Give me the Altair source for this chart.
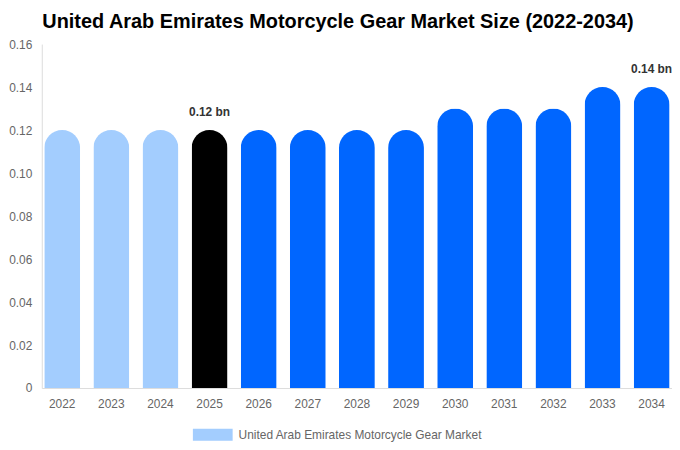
import pandas as pd
import altair as alt

years = ["2022", "2023", "2024", "2025", "2026", "2027", "2028",
         "2029", "2030", "2031", "2032", "2033", "2034"]
values = [0.12, 0.12, 0.12, 0.12, 0.12, 0.12, 0.12,
          0.12, 0.13, 0.13, 0.13, 0.14, 0.14]
bar_colors = ["#a3cdfe", "#a3cdfe", "#a3cdfe", "#000000", "#0066ff", "#0066ff", "#0066ff",
              "#0066ff", "#0066ff", "#0066ff", "#0066ff", "#0066ff", "#0066ff"]
labels = ["", "", "", "0.12 bn", "", "", "", "", "", "", "", "", "0.14 bn"]
series = "United Arab Emirates Motorcycle Gear Market"

df = pd.DataFrame({"year": years, "value": values, "col": bar_colors,
                   "label": labels, "series": series})

font = "Liberation Sans"

x = alt.X("year:N", title=None,
          scale=alt.Scale(paddingInner=0.27, paddingOuter=0.05),
          axis=alt.Axis(labelAngle=0, ticks=False, domainColor="#dddddd",
                        labelColor="#666666", labelFontSize=12, labelPadding=11,
                        labelFont=font))
y = alt.Y("value:Q", title=None,
          scale=alt.Scale(domain=[0, 0.16]),
          axis=alt.Axis(values=[0, 0.02, 0.04, 0.06, 0.08, 0.1, 0.12, 0.14, 0.16],
                        labelExpr="datum.value == 0 ? '0' : format(datum.value, '.2f')",
                        grid=False, ticks=False, domainColor="#dddddd",
                        labelColor="#666666", labelFontSize=12, labelPadding=10,
                        labelFont=font))

bars = alt.Chart(df).mark_bar(
    cornerRadiusTopLeft=18, cornerRadiusTopRight=18
).encode(
    x=x, y=y,
    fill=alt.Fill("col:N", scale=None),
)

legend_layer = alt.Chart(df).mark_bar(opacity=0).encode(
    x=x, y=y,
    color=alt.Color("series:N", title=None,
                    scale=alt.Scale(range=["#a3cdfe"]),
                    legend=alt.Legend(orient="none", legendX=152, legendY=373,
                                      direction="horizontal",
                                      symbolType="M-1,-0.3L1,-0.3L1,0.3L-1,0.3Z",
                                      symbolSize=1600, symbolOpacity=1,
                                      symbolStrokeWidth=0, labelOffset=6,
                                      labelLimit=400,
                                      labelColor="#666666", labelFontSize=12,
                                      labelFont=font)),
)

text = alt.Chart(df).transform_filter(
    alt.datum.label != ""
).mark_text(
    baseline="bottom", dy=-11, fontWeight="bold", fontSize=12, color="#333333", font=font
).encode(x=x, y=y, text="label:N")

chart = alt.layer(bars, legend_layer, text).properties(
    width=634, height=346,
    title=alt.Title("United Arab Emirates Motorcycle Gear Market Size (2022-2034)",
                    fontSize=20, fontWeight="bold", color="#000000", font=font,
                    anchor="middle", offset=6, dx=-19),
    autosize=alt.AutoSizeParams(type="none"),
    padding={"left": 34, "top": 35, "right": 0, "bottom": 55},
).configure_view(stroke=None)

chart.save("out.html", embed_options={"renderer": "svg", "actions": False})
